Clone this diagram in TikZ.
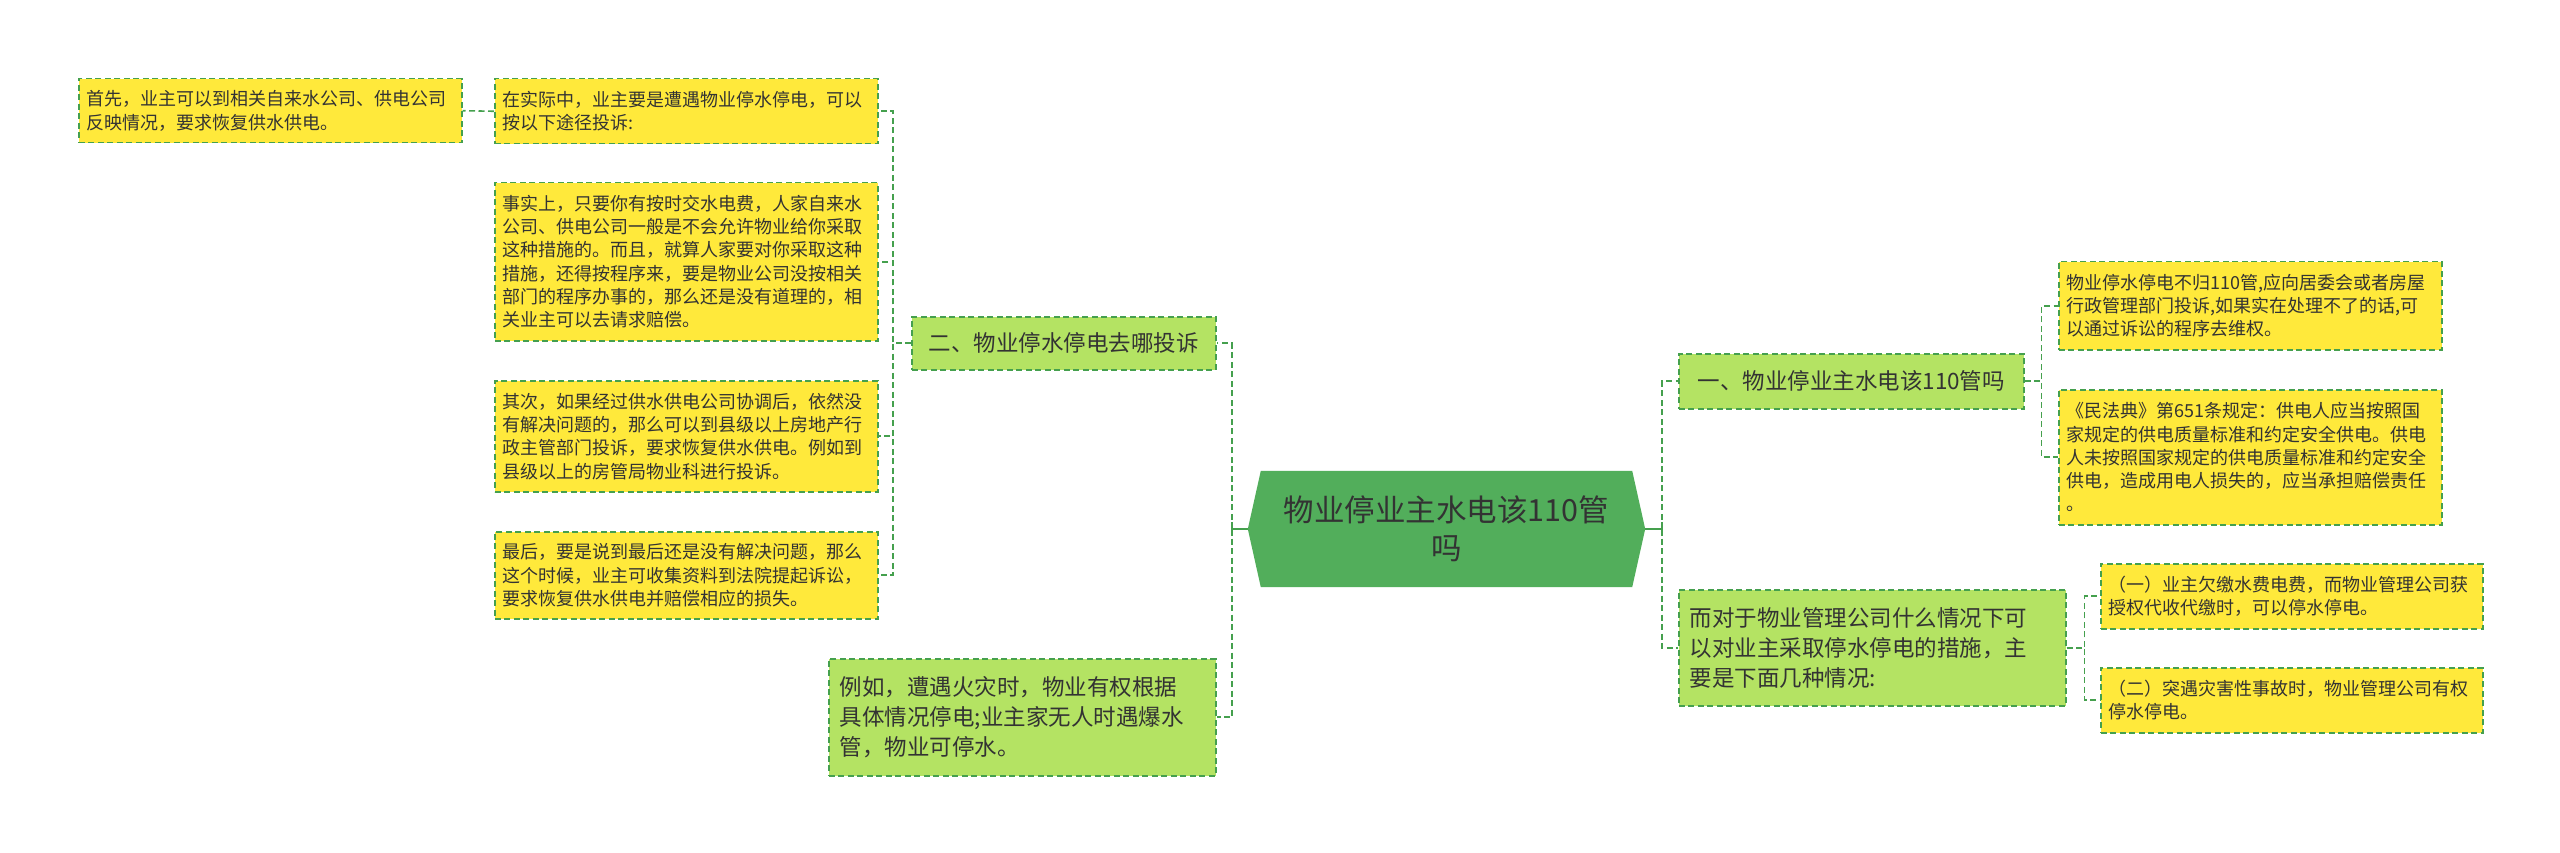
\documentclass[tikz,border=0pt]{standalone}
\usepackage{fontspec}
\setmainfont{Noto Sans CJK SC}
\usetikzlibrary{calc,backgrounds}
\definecolor{ylw}{HTML}{FFE93B}
\definecolor{lgr}{HTML}{B4E363}
\definecolor{hgr}{HTML}{52AE5B}
\definecolor{bdr}{HTML}{45A04E}
\definecolor{txt}{HTML}{333333}
\begin{document}
\begin{tikzpicture}[x=1pt,y=-1pt,
  bx/.style={draw=bdr, line width=1.5pt, dash pattern=on 6pt off 3.5pt, anchor=north west,
    inner xsep=8pt, inner ysep=0pt, align=left, text=txt},
  ybox/.style={bx, fill=ylw, font=\fontsize{18pt}{23.3pt}\selectfont},
  gbox/.style={bx, fill=lgr, font=\fontsize{22.5pt}{30pt}\selectfont, inner xsep=11pt},
  conn/.style={draw=bdr, line width=1.6pt, dash pattern=on 6pt off 3.5pt},
  solidc/.style={draw=bdr, line width=1.8pt},
]
\useasboundingbox (0,0) rectangle (2560,853);
\begin{scope}[on background layer]
\fill[white] (0,0) rectangle (2560,853);
\end{scope}

% left side leaves
\node[ybox, text width=367pt, minimum height=64pt] (a1) at (78,78)
  {首先，业主可以到相关自来水公司、供电公司\\反映情况，要求恢复供水供电。};
\node[ybox, text width=367pt, minimum height=65pt] (b1) at (494,78)
  {在实际中，业主要是遭遇物业停水停电，可以\\按以下途径投诉:};
\node[ybox, text width=367pt, minimum height=158pt] (b2) at (494,182)
  {事实上，只要你有按时交水电费，人家自来水\\公司、供电公司一般是不会允许物业给你采取\\这种措施的。而且，就算人家要对你采取这种\\措施，还得按程序来，要是物业公司没按相关\\部门的程序办事的，那么还是没有道理的，相\\关业主可以去请求赔偿。};
\node[ybox, text width=367pt, minimum height=111pt] (b3) at (494,380)
  {其次，如果经过供水供电公司协调后，依然没\\有解决问题的，那么可以到县级以上房地产行\\政主管部门投诉，要求恢复供水供电。例如到\\县级以上的房管局物业科进行投诉。};
\node[ybox, text width=367pt, minimum height=87pt] (b4) at (494,531)
  {最后，要是说到最后还是没有解决问题，那么\\这个时候，业主可收集资料到法院提起诉讼，\\要求恢复供水供电并赔偿相应的损失。};

% left level-1
\node[gbox, minimum width=304pt, minimum height=53pt, align=center] (L1) at (911,316)
  {二、物业停水停电去哪投诉};
\node[gbox, text width=365pt, minimum height=117pt] (L2) at (828,658)
  {例如，遭遇火灾时，物业有权根据\\具体情况停电;业主家无人时遇爆水\\管，物业可停水。};

% center
\node[minimum width=397pt, minimum height=116pt, inner sep=0pt, align=center,
  text=txt, font=\fontsize{30.5pt}{38pt}\selectfont] (C) at (1446.5,529)
  {物业停业主水电该110管\\吗};
\begin{scope}[on background layer]
\fill[hgr] (C.west) -- ([xshift=13pt]C.north west) -- ([xshift=-13pt]C.north east)
  -- (C.east) -- ([xshift=-13pt]C.south east) -- ([xshift=13pt]C.south west) -- cycle;
\end{scope}

% right level-1
\node[gbox, minimum width=345pt, minimum height=55pt, align=center] (R1) at (1678,353)
  {一、物业停业主水电该110管吗};
\node[gbox, text width=365pt, minimum height=116pt] (R2) at (1678,589)
  {而对于物业管理公司什么情况下可\\以对业主采取停水停电的措施，主\\要是下面几种情况:};

% right leaves
\node[ybox, text width=367pt, minimum height=88pt] (r1a) at (2058,261)
  {物业停水停电不归110管,应向居委会或者房屋\\行政管理部门投诉,如果实在处理不了的话,可\\以通过诉讼的程序去维权。};
\node[ybox, text width=367pt, minimum height=135pt] (r1b) at (2058,389)
  {《民法典》第651条规定：供电人应当按照国\\家规定的供电质量标准和约定安全供电。供电\\人未按照国家规定的供电质量标准和约定安全\\供电，造成用电人损失的，应当承担赔偿责任\\。};
\node[ybox, text width=366pt, minimum height=65pt] (r2a) at (2100,563)
  {（一）业主欠缴水费电费，而物业管理公司获\\授权代收代缴时，可以停水停电。};
\node[ybox, text width=366pt, minimum height=65pt] (r2b) at (2100,667)
  {（二）突遇灾害性事故时，物业管理公司有权\\停水停电。};

% connectors
\draw[conn] (b1.west) -- (a1.east);
\foreach \c in {b1,b2,b3,b4}{
  \draw[conn] (L1.west) -- ++(-18,0) |- (\c.east);
}
\draw[solidc] (C.west) -- ++(-16,0) coordinate (cl);
\draw[solidc] ([yshift=7pt]cl) -- ([yshift=-7pt]cl);
\draw[conn] (cl) |- (L1.east);
\draw[conn] (cl) |- (L2.east);
\draw[solidc] (C.east) -- ++(17,0) coordinate (cr);
\draw[solidc] ([yshift=7pt]cr) -- ([yshift=-7pt]cr);
\draw[conn] (cr) |- (R1.west);
\draw[conn] (cr) |- (R2.west);
\foreach \c in {r1a,r1b}{
  \draw[conn] (R1.east) -- ++(17,0) |- (\c.west);
}
\foreach \c in {r2a,r2b}{
  \draw[conn] (R2.east) -- ++(18,0) |- (\c.west);
}
\end{tikzpicture}
\end{document}
